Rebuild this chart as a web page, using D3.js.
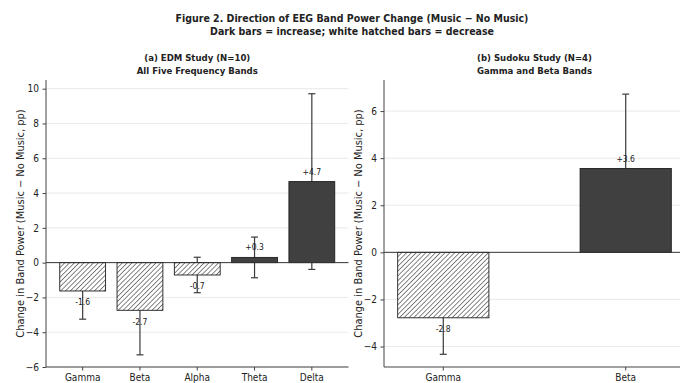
<!DOCTYPE html>
<html>
<head>
<meta charset="utf-8">
<script src="https://cdn.jsdelivr.net/npm/d3@7/dist/d3.min.js"></script>
<style>
  html, body { margin: 0; padding: 0; background: #fff; }
  svg { display: block; }
  text { fill: #222; }
  .cond { font-family: "DejaVu Sans Condensed", "DejaVu Sans", sans-serif; font-stretch: condensed; }
</style>
</head>
<body>
<svg id="chart" width="680" height="383"></svg>
<script>
// EDM study: all five frequency bands
const edmBands = ["Gamma", "Beta", "Alpha", "Theta", "Delta"];
const edmMeans = [-1.63, -2.74, -0.71, 0.30, 4.66];
const edmErrors = [1.62, 2.56, 1.02, 1.17, 5.05];
const edmTicks = [-6, -4, -2, 0, 2, 4, 6, 8, 10];

// Sudoku study: gamma and beta only
const sudokuBands = ["Gamma", "Beta"];
const sudokuMeans = [-2.78, 3.56];
const sudokuErrors = [1.55, 3.16];
const sudokuTicks = [-4, -2, 0, 2, 4, 6];

const titleLines = [
  "Figure 2. Direction of EEG Band Power Change (Music \u2212 No Music)",
  "Dark bars = increase; white hatched bars = decrease"
];
const yLabel = "Change in Band Power (Music \u2212 No Music, pp)";

const svg = d3.select("#chart");

// diagonal hatch used for decreases
const defs = svg.append("defs");
const hatch = defs.append("pattern")
  .attr("id", "hatch")
  .attr("patternUnits", "userSpaceOnUse")
  .attr("width", 3.4).attr("height", 3.4)
  .attr("patternTransform", "rotate(45)");
hatch.append("rect").attr("width", 3.4).attr("height", 3.4).attr("fill", "#fff");
hatch.append("line")
  .attr("x1", 0).attr("y1", 0).attr("x2", 0).attr("y2", 3.4)
  .attr("stroke", "#222").attr("stroke-width", 1.1);

// figure title
svg.append("g").selectAll("text").data(titleLines).join("text")
  .attr("class", "cond")
  .attr("x", 352).attr("y", (d, i) => 22 + i * 13)
  .attr("text-anchor", "middle")
  .attr("font-size", 10.5).attr("font-weight", "bold")
  .text(d => d);

function panel(opts) {
  const { left, right, top, bottom, bands, means, errors, ticks, domain,
          padInner, padOuter, subtitle, labelX } = opts;

  const x = d3.scaleBand().domain(bands).range([left, right])
    .paddingInner(padInner).paddingOuter(padOuter);
  const y = d3.scaleLinear().domain(domain).range([bottom, top]);
  const g = svg.append("g");
  const rows = bands.map((b, i) => ({ band: b, mean: means[i], err: errors[i] }));

  // gridlines
  g.append("g").selectAll("line").data(ticks.filter(t => t !== 0)).join("line")
    .attr("x1", left).attr("x2", right)
    .attr("y1", d => y(d)).attr("y2", d => y(d))
    .attr("stroke", "#e6e6e6").attr("stroke-width", 0.9);

  // error bars sit underneath the bars
  const eb = g.append("g").attr("stroke", "#3a3a3a").attr("stroke-width", 1.2);
  rows.forEach(d => {
    const cx = x(d.band) + x.bandwidth() / 2;
    const lo = y(d.mean - d.err), hi = y(d.mean + d.err);
    eb.append("line").attr("x1", cx).attr("x2", cx).attr("y1", lo).attr("y2", hi);
    eb.append("line").attr("x1", cx - 3.5).attr("x2", cx + 3.5).attr("y1", lo).attr("y2", lo);
    eb.append("line").attr("x1", cx - 3.5).attr("x2", cx + 3.5).attr("y1", hi).attr("y2", hi);
  });

  // value labels (drawn before the bars, like the error bars)
  const fmt = d3.format("+.1f");
  g.append("g").selectAll("text").data(rows).join("text")
    .attr("class", "cond")
    .attr("x", d => x(d.band) + x.bandwidth() / 2)
    .attr("y", d => d.mean >= 0 ? y(d.mean) - 7 : y(d.mean) + 14.5)
    .attr("text-anchor", "middle")
    .attr("font-size", 8.5).attr("fill", "#444")
    .text(d => d.mean >= 0 ? fmt(d.mean) : "-" + Math.abs(d.mean).toFixed(1));

  // bars
  g.append("g").selectAll("rect").data(rows).join("rect")
    .attr("x", d => x(d.band))
    .attr("width", x.bandwidth())
    .attr("y", d => y(Math.max(0, d.mean)))
    .attr("height", d => Math.abs(y(d.mean) - y(0)))
    .attr("fill", d => d.mean >= 0 ? "#404040" : "url(#hatch)")
    .attr("stroke", "#1e1e1e").attr("stroke-width", 0.9);

  // zero reference line
  g.append("line")
    .attr("x1", left).attr("x2", right)
    .attr("y1", y(0)).attr("y2", y(0))
    .attr("stroke", "#333").attr("stroke-width", 1);

  // axes
  const yAxis = g.append("g").attr("transform", `translate(${left},0)`)
    .call(d3.axisLeft(y).tickValues(ticks).tickSize(3.5).tickPadding(3.5)
      .tickFormat(d => d < 0 ? "\u2212" + Math.abs(d) : d));
  const xAxis = g.append("g").attr("transform", `translate(0,${bottom})`)
    .call(d3.axisBottom(x).tickSize(3.5).tickPadding(3.5).tickSizeOuter(0));
  [yAxis, xAxis].forEach(a => {
    a.select(".domain").attr("stroke", "#444").attr("stroke-width", 1);
    a.selectAll(".tick line").attr("stroke", "#444");
    a.selectAll(".tick text").attr("class", "cond").attr("fill", "#222").attr("font-size", 10);
  });
  yAxis.select(".domain").attr("d", `M0,${top}V${bottom}`);
  xAxis.select(".domain").attr("d", `M${left},0H${right}`);

  // axis title
  svg.append("text")
    .attr("transform", `translate(${labelX},${(top + bottom) / 2}) rotate(-90)`)
    .attr("text-anchor", "middle")
    .attr("font-family", "DejaVu Sans, sans-serif")
    .attr("font-size", 9.9).attr("fill", "#333")
    .text(yLabel);

  // subplot title
  svg.append("g").selectAll("text").data(subtitle).join("text")
    .attr("class", "cond")
    .attr("x", (left + right) / 2).attr("y", (d, i) => 61 + i * 13)
    .attr("text-anchor", "middle")
    .attr("font-size", 9.5).attr("font-weight", "bold")
    .text(d => d);
}

panel({
  left: 46, right: 348.5, top: 80, bottom: 367,
  bands: edmBands, means: edmMeans, errors: edmErrors, ticks: edmTicks,
  domain: [-6, 10.5], padInner: 0.2, padOuter: 0.24,
  subtitle: ["(a) EDM Study (N=10)", "All Five Frequency Bands"], labelX: 24
});

panel({
  left: 384, right: 685, top: 80, bottom: 367,
  bands: sudokuBands, means: sudokuMeans, errors: sudokuErrors, ticks: sudokuTicks,
  domain: [-4.87, 7.32], padInner: 0.5, padOuter: 0.075,
  subtitle: ["(b) Sudoku Study (N=4)", "Gamma and Beta Bands"], labelX: 362
});
</script>
</body>
</html>
